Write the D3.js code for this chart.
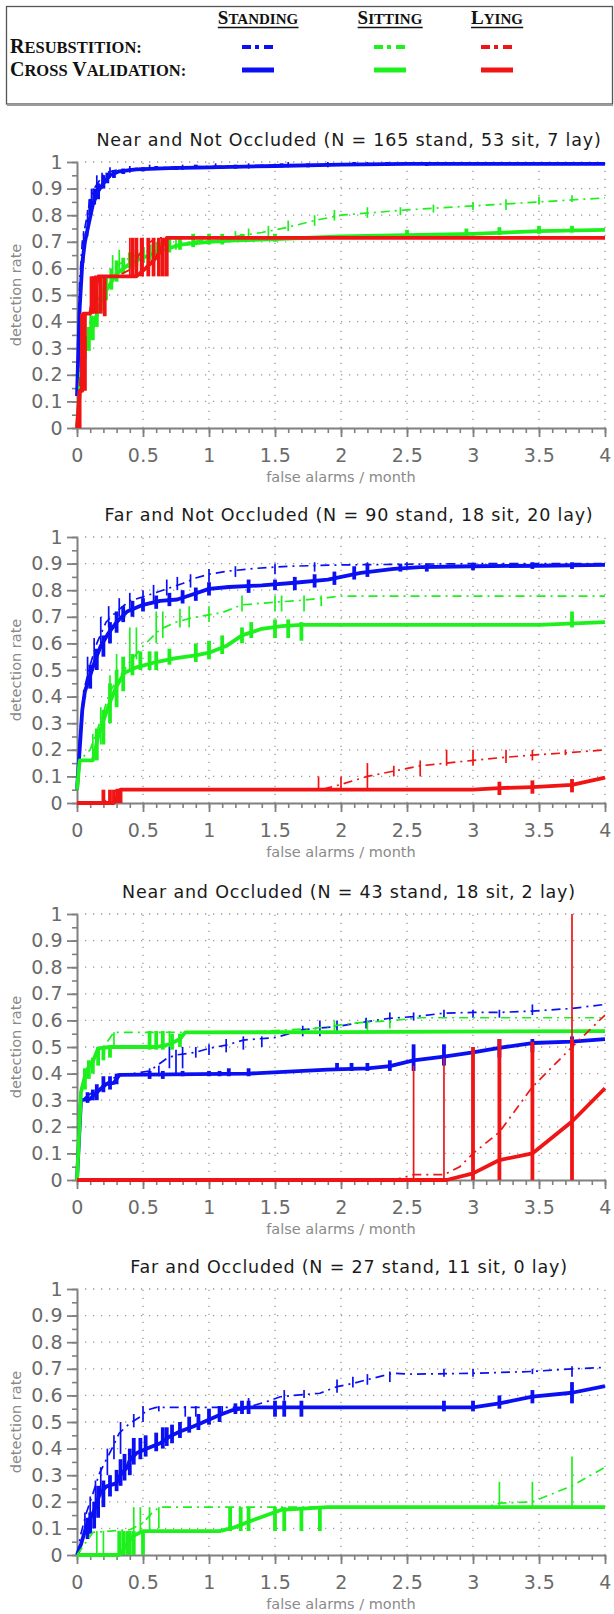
<!DOCTYPE html>
<html>
<head>
<meta charset="utf-8">
<script src="https://cdn.jsdelivr.net/npm/d3@7"></script>
<style>
  body { margin: 0; background: #fff; }
  svg { display: block; }
</style>
</head>
<body>
<div id="chart"></div>
<script>
// ---------- data ----------
const xTicks = [0, 0.5, 1, 1.5, 2, 2.5, 3, 3.5, 4];
const yTicks = [0, 0.1, 0.2, 0.3, 0.4, 0.5, 0.6, 0.7, 0.8, 0.9, 1];
const classes = ["Standing", "Sitting", "Lying"];
const classColors = ["#0a10f2", "#1ef01e", "#f01414"];
const rowLabels = ["Resubstition:", "Cross Validation:"];
const panelTitles = [
  "Near and Not Occluded (N = 165 stand, 53 sit, 7 lay)",
  "Far and Not Occluded (N = 90 stand, 18 sit, 20 lay)",
  "Near and Occluded (N = 43 stand, 18 sit, 2 lay)",
  "Far and Occluded (N = 27 stand, 11 sit, 0 lay)"
];

// curves are [falseAlarms, detectionRate], bars are [falseAlarms, low, high]
// panel 1 - near, not occluded
const p1StandCV = [[0,0.12],[0.02,0.45],[0.04,0.62],[0.06,0.7],[0.09,0.77],[0.12,0.84],[0.16,0.89],[0.2,0.92],[0.25,0.95],[0.32,0.965],[0.45,0.972],[0.7,0.977],[1,0.98],[1.5,0.985],[2,0.99],[2.5,0.993],[4,0.993]];
const p1StandCVBars = [[0.1,0.8,0.86],[0.13,0.84,0.9],[0.16,0.86,0.92],[0.2,0.9,0.95],[0.23,0.92,0.96],[0.28,0.94,0.97],[0.35,0.955,0.975],[0.5,0.965,0.98],[0.6,0.97,0.985],[0.75,0.97,0.985],[0.9,0.975,0.99],[1.2,0.975,0.99],[1.55,0.98,0.995],[1.75,0.98,0.995],[2.1,0.985,1],[2.35,0.985,1],[2.65,0.985,1]];
const p1StandRS = [[0,0.12],[0.02,0.55],[0.04,0.7],[0.07,0.78],[0.1,0.86],[0.13,0.9],[0.17,0.93],[0.22,0.96],[0.3,0.97],[0.45,0.975],[0.7,0.98],[1,0.983],[1.5,0.988],[2,0.99],[2.5,0.995],[4,0.995]];
const p1StandRSBars = [[0.05,0.62,0.74],[0.08,0.72,0.82],[0.11,0.8,0.9],[0.15,0.88,0.95],[0.19,0.9,0.96],[0.25,0.94,0.98],[0.4,0.96,0.985],[0.55,0.97,0.99],[0.8,0.97,0.99],[1.05,0.975,0.995],[1.3,0.975,0.995],[1.6,0.98,1],[1.9,0.98,1],[2.2,0.985,1]];
const p1SitCV = [[0,0],[0.03,0.2],[0.05,0.28],[0.08,0.32],[0.12,0.38],[0.16,0.44],[0.2,0.5],[0.25,0.54],[0.3,0.58],[0.38,0.61],[0.45,0.63],[0.55,0.65],[0.65,0.67],[0.8,0.69],[1,0.7],[1.2,0.705],[1.5,0.71],[2,0.72],[2.5,0.725],[3,0.73],[3.5,0.74],[4,0.745]];
const p1SitCVBars = [[0.06,0.26,0.32],[0.09,0.29,0.38],[0.12,0.33,0.42],[0.15,0.38,0.47],[0.18,0.44,0.53],[0.22,0.48,0.56],[0.26,0.52,0.6],[0.3,0.55,0.63],[0.35,0.58,0.64],[0.4,0.6,0.66],[0.45,0.61,0.67],[0.5,0.62,0.68],[0.55,0.63,0.69],[0.62,0.65,0.7],[0.7,0.66,0.71],[0.78,0.67,0.72],[0.88,0.68,0.73],[1,0.69,0.73],[1.1,0.69,0.73],[1.25,0.7,0.73],[1.5,0.7,0.73],[2.5,0.72,0.745],[2.95,0.72,0.75],[3.2,0.725,0.755],[3.5,0.73,0.76],[3.75,0.735,0.76]];
const p1SitRS = [[0,0],[0.03,0.22],[0.05,0.3],[0.1,0.4],[0.15,0.47],[0.2,0.53],[0.25,0.58],[0.3,0.61],[0.4,0.64],[0.5,0.66],[0.6,0.67],[0.8,0.695],[1,0.71],[1.2,0.72],[1.4,0.735],[1.6,0.755],[1.8,0.78],[2,0.8],[2.25,0.81],[2.5,0.82],[3,0.835],[3.5,0.85],[4,0.865]];
const p1SitRSBars = [[0.1,0.36,0.44],[0.15,0.42,0.52],[0.2,0.5,0.57],[0.27,0.56,0.65],[0.32,0.58,0.67],[0.45,0.62,0.69],[0.6,0.65,0.7],[0.75,0.67,0.72],[1,0.69,0.73],[1.2,0.7,0.74],[1.3,0.71,0.75],[1.45,0.72,0.76],[1.6,0.74,0.78],[1.8,0.76,0.8],[1.95,0.78,0.82],[2.2,0.79,0.83],[2.45,0.8,0.83],[2.7,0.81,0.84],[3,0.82,0.85],[3.25,0.82,0.86],[3.5,0.84,0.87],[3.75,0.85,0.875]];
const p1LieCV = [[0,0],[0.02,0.14],[0.04,0.14],[0.05,0.43],[0.1,0.43],[0.13,0.5],[0.16,0.57],[0.45,0.57],[0.52,0.6],[0.6,0.64],[0.68,0.715],[4,0.715]];
const p1LieCVBars = [[0.02,0,0.14],[0.04,0.14,0.43],[0.06,0.14,0.43],[0.11,0.43,0.57],[0.13,0.43,0.57],[0.15,0.43,0.57],[0.18,0.43,0.57],[0.21,0.42,0.57],[0.42,0.57,0.715],[0.45,0.57,0.715],[0.49,0.57,0.715],[0.54,0.57,0.715],[0.58,0.57,0.715],[0.62,0.57,0.715],[0.65,0.57,0.715],[0.68,0.57,0.715]];
const p1LieRS = [[0,0],[0.02,0.14],[0.04,0.43],[0.1,0.43],[0.12,0.57],[0.3,0.57],[0.42,0.6],[0.5,0.68],[0.6,0.715],[4,0.715]];
const p1LieRSBars = [[0.03,0.14,0.43],[0.12,0.43,0.57],[0.4,0.57,0.715],[0.5,0.57,0.715]];

// panel 2 - far, not occluded
const p2StandCV = [[0,0.05],[0.02,0.2],[0.04,0.35],[0.06,0.42],[0.1,0.48],[0.14,0.54],[0.18,0.59],[0.24,0.64],[0.3,0.68],[0.38,0.72],[0.5,0.745],[0.63,0.76],[0.76,0.765],[0.88,0.785],[1,0.805],[1.15,0.812],[1.4,0.818],[1.65,0.828],[1.9,0.84],[2.15,0.865],[2.4,0.88],[2.6,0.887],[3,0.89],[3.5,0.892],[4,0.895]];
const p2StandCVBars = [[0.1,0.43,0.52],[0.15,0.5,0.58],[0.2,0.55,0.63],[0.25,0.6,0.68],[0.3,0.64,0.72],[0.35,0.68,0.74],[0.42,0.7,0.76],[0.5,0.72,0.77],[0.6,0.73,0.78],[0.7,0.74,0.79],[0.8,0.75,0.8],[0.9,0.76,0.81],[1,0.78,0.83],[1.3,0.79,0.84],[1.5,0.8,0.84],[1.65,0.8,0.85],[1.8,0.81,0.86],[1.95,0.82,0.87],[2.1,0.84,0.89],[2.2,0.85,0.9],[2.45,0.87,0.9],[2.65,0.87,0.9],[3,0.875,0.9],[3.45,0.88,0.905],[3.75,0.88,0.905]];
const p2StandRS = [[0,0.05],[0.02,0.25],[0.05,0.42],[0.1,0.52],[0.15,0.6],[0.22,0.68],[0.3,0.72],[0.4,0.76],[0.5,0.775],[0.65,0.8],[0.8,0.825],[0.9,0.846],[1,0.86],[1.15,0.872],[1.35,0.882],[1.6,0.89],[2,0.895],[3,0.9],[4,0.9]];
const p2StandRSBars = [[0.08,0.45,0.55],[0.13,0.53,0.62],[0.18,0.6,0.7],[0.24,0.66,0.74],[0.32,0.7,0.77],[0.4,0.73,0.79],[0.5,0.75,0.8],[0.58,0.76,0.82],[0.68,0.78,0.84],[0.76,0.8,0.85],[0.86,0.81,0.86],[1,0.83,0.88],[1.2,0.85,0.89],[1.5,0.86,0.9],[1.8,0.87,0.905],[2.2,0.875,0.905],[2.5,0.88,0.905]];
const p2SitCV = [[0,0.05],[0.02,0.16],[0.12,0.16],[0.16,0.25],[0.2,0.31],[0.25,0.38],[0.3,0.44],[0.36,0.49],[0.45,0.51],[0.6,0.53],[0.75,0.545],[0.9,0.555],[1,0.565],[1.13,0.59],[1.25,0.63],[1.4,0.655],[1.55,0.665],[1.7,0.67],[3.5,0.67],[4,0.68]];
const p2SitCVBars = [[0.15,0.16,0.28],[0.2,0.22,0.35],[0.25,0.3,0.45],[0.3,0.36,0.5],[0.35,0.42,0.55],[0.42,0.48,0.56],[0.48,0.5,0.57],[0.55,0.5,0.57],[0.6,0.5,0.57],[0.7,0.52,0.58],[0.9,0.53,0.6],[1,0.54,0.61],[1.1,0.56,0.63],[1.25,0.6,0.66],[1.32,0.62,0.68],[1.5,0.62,0.69],[1.6,0.62,0.69],[1.7,0.61,0.68],[3.75,0.66,0.72]];
const p2SitRS = [[0,0.05],[0.02,0.16],[0.1,0.2],[0.15,0.27],[0.2,0.34],[0.25,0.42],[0.33,0.48],[0.4,0.53],[0.5,0.59],[0.63,0.653],[0.75,0.68],[0.88,0.697],[1.1,0.716],[1.25,0.745],[1.5,0.755],[1.7,0.762],[1.9,0.772],[2,0.778],[4,0.778]];
const p2SitRSBars = [[0.12,0.16,0.26],[0.18,0.22,0.36],[0.25,0.3,0.48],[0.3,0.38,0.56],[0.4,0.5,0.66],[0.45,0.54,0.66],[0.6,0.6,0.72],[0.65,0.62,0.72],[0.78,0.66,0.73],[0.85,0.66,0.74],[1,0.68,0.74],[1.25,0.72,0.78],[1.5,0.72,0.78],[1.55,0.72,0.78],[1.72,0.72,0.78],[1.85,0.74,0.78]];
const p2LieCV = [[0,0],[0.28,0],[0.33,0.05],[3,0.05],[3.2,0.056],[3.45,0.06],[3.75,0.068],[4,0.095]];
const p2LieCVBars = [[0.2,0,0.05],[0.25,0,0.05],[0.28,0,0.05],[0.31,0,0.05],[0.33,0,0.05],[3.2,0.03,0.08],[3.45,0.035,0.085],[3.75,0.04,0.09]];
const p2LieRS = [[0,0],[0.2,0],[0.3,0.05],[1.85,0.05],[2,0.07],[2.2,0.1],[2.4,0.12],[2.6,0.14],[2.8,0.15],[3,0.16],[3.2,0.17],[3.45,0.18],[3.75,0.19],[4,0.2]];
const p2LieRSBars = [[1.83,0.05,0.1],[2,0.05,0.1],[2.2,0.05,0.15],[2.4,0.1,0.14],[2.6,0.1,0.16],[2.8,0.14,0.2],[3,0.14,0.2],[3.25,0.15,0.2],[3.45,0.16,0.2],[3.7,0.18,0.2]];

// panel 3 - near, occluded
const p3StandCV = [[0,0],[0.03,0.3],[0.1,0.305],[0.15,0.33],[0.22,0.36],[0.28,0.365],[0.32,0.395],[1.3,0.4],[1.9,0.415],[2.2,0.42],[2.37,0.428],[2.55,0.45],[2.78,0.464],[3,0.48],[3.2,0.497],[3.45,0.515],[3.75,0.52],[4,0.53]];
const p3StandCVBars = [[0.08,0.29,0.33],[0.12,0.3,0.34],[0.15,0.3,0.36],[0.2,0.33,0.39],[0.25,0.34,0.39],[0.3,0.36,0.4],[0.55,0.38,0.41],[0.65,0.38,0.41],[0.8,0.39,0.41],[1,0.39,0.41],[1.08,0.39,0.41],[1.15,0.39,0.42],[1.3,0.39,0.42],[1.97,0.41,0.44],[2.08,0.41,0.44],[2.2,0.41,0.44],[2.37,0.41,0.45],[2.55,0.41,0.51],[2.78,0.43,0.51],[3.2,0.46,0.53],[3.45,0.48,0.53],[3.75,0.5,0.54]];
const p3StandRS = [[0,0],[0.03,0.3],[0.3,0.39],[0.55,0.41],[0.68,0.457],[0.75,0.47],[0.9,0.48],[1,0.495],[1.13,0.507],[1.26,0.526],[1.51,0.536],[1.71,0.565],[1.97,0.577],[2.19,0.595],[2.37,0.608],[2.55,0.614],[2.78,0.627],[3,0.63],[3.2,0.63],[3.45,0.635],[3.75,0.645],[4,0.66]];
const p3StandRSBars = [[0.55,0.39,0.42],[0.62,0.39,0.43],[0.7,0.42,0.5],[0.75,0.4,0.49],[0.8,0.42,0.5],[0.9,0.46,0.5],[1,0.47,0.51],[1.13,0.48,0.53],[1.26,0.49,0.54],[1.4,0.5,0.54],[1.71,0.54,0.58],[1.84,0.54,0.6],[1.97,0.56,0.6],[2.19,0.57,0.61],[2.37,0.59,0.63],[2.55,0.6,0.63],[2.78,0.61,0.64],[3,0.61,0.64],[3.2,0.61,0.64],[3.45,0.62,0.66]];
const p3SitCV = [[0,0],[0.03,0.33],[0.07,0.41],[0.12,0.445],[0.16,0.495],[0.25,0.5],[0.6,0.5],[0.7,0.51],[0.78,0.53],[0.82,0.555],[2,0.556],[4,0.56]];
const p3SitCVBars = [[0.06,0.34,0.42],[0.09,0.38,0.45],[0.12,0.4,0.46],[0.16,0.43,0.5],[0.2,0.45,0.5],[0.25,0.46,0.5],[0.55,0.49,0.56],[0.6,0.49,0.56],[0.65,0.49,0.56],[0.72,0.49,0.55],[0.78,0.5,0.55]];
const p3SitRS = [[0,0],[0.03,0.35],[0.1,0.45],[0.2,0.5],[0.28,0.555],[1.3,0.556],[1.8,0.57],[2.1,0.59],[2.4,0.6],[2.6,0.61],[4,0.61]];
const p3SitRSBars = [[0.28,0.5,0.555],[0.55,0.5,0.56],[0.6,0.5,0.56],[0.7,0.5,0.56],[1.95,0.56,0.6],[2.2,0.56,0.6],[2.37,0.57,0.6]];
const p3LieCV = [[0,0],[2.8,0],[3,0.025],[3.2,0.075],[3.45,0.1],[3.75,0.22],[4,0.345]];
const p3LieCVBars = [[3,0,0.5],[3.2,0,0.53],[3.45,0,0.52],[3.75,0,0.53]];
const p3LieRS = [[0,0],[2.4,0],[2.55,0.02],[2.78,0.02],[2.9,0.05],[3,0.1],[3.2,0.18],[3.45,0.35],[3.75,0.5],[4,0.62]];
const p3LieRSBars = [[2.55,0,0.43],[2.78,0,0.46],[3.75,0,1]];

// panel 4 - far, occluded (no lying samples)
const p4StandCV = [[0,0],[0.03,0.04],[0.07,0.107],[0.12,0.157],[0.15,0.19],[0.17,0.23],[0.22,0.257],[0.3,0.27],[0.32,0.295],[0.38,0.33],[0.4,0.357],[0.45,0.383],[0.53,0.4],[0.63,0.42],[0.7,0.445],[0.78,0.464],[0.88,0.483],[0.96,0.5],[1.08,0.526],[1.18,0.545],[1.29,0.555],[3,0.555],[3.2,0.57],[3.45,0.595],[3.75,0.61],[4,0.635]];
const p4StandCVBars = [[0.08,0.06,0.14],[0.1,0.08,0.16],[0.13,0.1,0.2],[0.16,0.14,0.26],[0.2,0.18,0.28],[0.25,0.22,0.3],[0.3,0.24,0.32],[0.33,0.26,0.36],[0.36,0.28,0.38],[0.4,0.3,0.4],[0.43,0.34,0.44],[0.48,0.36,0.44],[0.52,0.37,0.45],[0.6,0.39,0.46],[0.65,0.4,0.48],[0.68,0.41,0.48],[0.72,0.42,0.49],[0.78,0.44,0.5],[0.85,0.46,0.52],[0.92,0.47,0.53],[1,0.49,0.55],[1.08,0.5,0.56],[1.2,0.53,0.57],[1.25,0.53,0.58],[1.3,0.53,0.58],[1.5,0.52,0.58],[1.57,0.52,0.58],[1.7,0.52,0.58],[2.78,0.54,0.58],[3,0.54,0.58],[3.2,0.55,0.6],[3.45,0.57,0.62],[3.75,0.57,0.65]];
const p4StandRS = [[0,0],[0.03,0.08],[0.07,0.157],[0.12,0.23],[0.17,0.307],[0.22,0.357],[0.26,0.395],[0.32,0.458],[0.4,0.495],[0.48,0.52],[0.53,0.545],[0.6,0.555],[1.29,0.555],[1.44,0.577],[1.54,0.595],[1.69,0.602],[1.84,0.608],[1.97,0.633],[2.09,0.645],[2.19,0.658],[2.39,0.683],[2.55,0.68],[3,0.683],[3.2,0.686],[3.45,0.69],[3.75,0.7],[4,0.705]];
const p4StandRSBars = [[0.06,0.08,0.16],[0.1,0.11,0.22],[0.14,0.15,0.28],[0.18,0.22,0.33],[0.23,0.3,0.4],[0.28,0.36,0.45],[0.33,0.38,0.5],[0.43,0.48,0.53],[0.5,0.5,0.56],[0.62,0.54,0.56],[0.82,0.52,0.56],[0.9,0.52,0.56],[1.1,0.53,0.56],[1.3,0.55,0.59],[1.57,0.58,0.62],[1.72,0.59,0.62],[1.97,0.61,0.66],[2.09,0.63,0.67],[2.2,0.64,0.68],[2.37,0.65,0.69],[2.78,0.67,0.7],[3,0.67,0.7],[3.45,0.68,0.7],[3.75,0.67,0.71]];
const p4SitCV = [[0,0],[0.32,0],[0.42,0.07],[0.5,0.09],[1.08,0.09],[1.2,0.105],[1.3,0.125],[1.55,0.17],[1.9,0.18],[4,0.18]];
const p4SitCVBars = [[0.32,0,0.09],[0.35,0,0.09],[0.38,0,0.09],[0.4,0,0.09],[0.43,0,0.09],[0.5,0,0.09],[1.16,0.09,0.18],[1.24,0.09,0.18],[1.3,0.09,0.18],[1.5,0.09,0.18],[1.57,0.09,0.18],[1.7,0.09,0.18],[1.84,0.09,0.18]];
const p4SitRS = [[0,0],[0.12,0.085],[0.4,0.095],[0.5,0.12],[0.58,0.165],[0.63,0.18],[3.1,0.18],[3.2,0.195],[3.45,0.2],[3.75,0.26],[4,0.33]];
const p4SitRSBars = [[0.15,0,0.09],[0.2,0,0.09],[0.43,0.09,0.18],[0.48,0.09,0.18],[0.55,0.09,0.18],[0.62,0.1,0.18],[3.2,0.18,0.275],[3.45,0.18,0.275],[3.75,0.18,0.37]];

const panels = [
  { title: panelTitles[0], series: [
    { cls: 0, cv: p1StandCV, cvBars: p1StandCVBars, rs: p1StandRS, rsBars: p1StandRSBars },
    { cls: 1, cv: p1SitCV, cvBars: p1SitCVBars, rs: p1SitRS, rsBars: p1SitRSBars },
    { cls: 2, cv: p1LieCV, cvBars: p1LieCVBars, rs: p1LieRS, rsBars: p1LieRSBars } ] },
  { title: panelTitles[1], series: [
    { cls: 0, cv: p2StandCV, cvBars: p2StandCVBars, rs: p2StandRS, rsBars: p2StandRSBars },
    { cls: 1, cv: p2SitCV, cvBars: p2SitCVBars, rs: p2SitRS, rsBars: p2SitRSBars },
    { cls: 2, cv: p2LieCV, cvBars: p2LieCVBars, rs: p2LieRS, rsBars: p2LieRSBars } ] },
  { title: panelTitles[2], series: [
    { cls: 0, cv: p3StandCV, cvBars: p3StandCVBars, rs: p3StandRS, rsBars: p3StandRSBars },
    { cls: 1, cv: p3SitCV, cvBars: p3SitCVBars, rs: p3SitRS, rsBars: p3SitRSBars },
    { cls: 2, cv: p3LieCV, cvBars: p3LieCVBars, rs: p3LieRS, rsBars: p3LieRSBars } ] },
  { title: panelTitles[3], series: [
    { cls: 0, cv: p4StandCV, cvBars: p4StandCVBars, rs: p4StandRS, rsBars: p4StandRSBars },
    { cls: 1, cv: p4SitCV, cvBars: p4SitCVBars, rs: p4SitRS, rsBars: p4SitRSBars } ] }
];

// ---------- layout ----------
const W = 614, H = 1614;
const plotL = 77, plotR = 605, plotH = 266;
const panelTop = [162, 537, 914, 1289];
const sans = "'DejaVu Sans', 'Liberation Sans', sans-serif";
const serif = "'Liberation Serif', 'Times New Roman', serif";
const axisColor = "#808080";
const rsDash = "9,5,2,5";

const svg = d3.select("#chart").append("svg")
  .attr("width", W).attr("height", H);
svg.append("rect").attr("width", W).attr("height", H).attr("fill", "#fff");

const x = d3.scaleLinear().domain([0, 4]).range([plotL, plotR]);

// ---------- legend box ----------
const leg = svg.append("g");
leg.append("rect")
  .attr("x", 6.5).attr("y", 6.5).attr("width", 606).attr("height", 97.5)
  .attr("fill", "#fff").attr("stroke", "#555").attr("stroke-width", 1.3);
leg.append("line")
  .attr("x1", 7).attr("x2", 613).attr("y1", 105).attr("y2", 105)
  .attr("stroke", "#9a9a9a").attr("stroke-width", 2);

// small caps by hand: first letter of each word large, the rest smaller
function capsText(g, str, tx, ty, big, small, anchor) {
  const t = g.append("text")
    .attr("x", tx).attr("y", ty)
    .attr("font-family", serif).attr("font-weight", "bold")
    .attr("fill", "#111").attr("text-anchor", anchor)
    .style("white-space", "pre");
  str.split(" ").forEach((w, k) => {
    t.append("tspan").attr("font-size", big).text((k > 0 ? " " : "") + w[0].toUpperCase());
    t.append("tspan").attr("font-size", small).text(w.slice(1).toUpperCase());
  });
  return t;
}

const colCenter = [258, 390, 497];
const rowY = [47, 70];

classes.forEach((c, i) => {
  const t = capsText(leg, c, colCenter[i], 24, 19, 15, "middle");
  const bb = t.node().getBBox();
  leg.append("line")
    .attr("x1", bb.x).attr("x2", bb.x + bb.width)
    .attr("y1", 27.5).attr("y2", 27.5)
    .attr("stroke", "#111").attr("stroke-width", 1.5);

  leg.append("line")
    .attr("x1", colCenter[i] - 16).attr("x2", colCenter[i] + 16)
    .attr("y1", rowY[0]).attr("y2", rowY[0])
    .attr("stroke", classColors[i]).attr("stroke-width", 4)
    .attr("stroke-dasharray", "9,4,4,5");
  leg.append("line")
    .attr("x1", colCenter[i] - 16).attr("x2", colCenter[i] + 16)
    .attr("y1", rowY[1]).attr("y2", rowY[1])
    .attr("stroke", classColors[i]).attr("stroke-width", 5);
});
rowLabels.forEach((r, i) => capsText(leg, r, 10, rowY[i] + 6, 20, 16.5, "start"));

// ---------- panels ----------
panels.forEach((p, i) => {
  const top = panelTop[i];
  const bottom = top + plotH;
  const y = d3.scaleLinear().domain([0, 1]).range([bottom, top]);
  const g = svg.append("g");

  // dotted grid
  g.append("g").selectAll("line").data(xTicks.slice(1)).join("line")
    .attr("x1", d => x(d)).attr("x2", d => x(d))
    .attr("y1", y(0)).attr("y2", y(1))
    .attr("stroke", "#9a9a9a").attr("stroke-width", 1.3)
    .attr("stroke-dasharray", "1.3,6.7");
  g.append("g").selectAll("line").data(yTicks.slice(1)).join("line")
    .attr("x1", x(0)).attr("x2", x(4))
    .attr("y1", d => y(d)).attr("y2", d => y(d))
    .attr("stroke", "#9a9a9a").attr("stroke-width", 1.3)
    .attr("stroke-dasharray", "1.3,6.7");

  // minor ticks
  const xMinor = d3.range(0, 40.5, 1).map(v => v / 10);
  const yMinor = d3.range(0, 20.5, 1).map(v => v / 20);
  g.append("g").attr("transform", `translate(0,${bottom})`)
    .call(d3.axisBottom(x).tickValues(xMinor).tickSize(5).tickFormat(""))
    .call(a => a.select(".domain").remove())
    .selectAll("line").attr("stroke", axisColor).attr("stroke-width", 1.6);
  g.append("g").attr("transform", `translate(${plotL},0)`)
    .call(d3.axisLeft(y).tickValues(yMinor).tickSize(5).tickFormat(""))
    .call(a => a.select(".domain").remove())
    .selectAll("line").attr("stroke", axisColor).attr("stroke-width", 1.6);

  // major axes
  const xa = g.append("g").attr("transform", `translate(0,${bottom})`)
    .call(d3.axisBottom(x).tickValues(xTicks).tickSize(9).tickSizeOuter(0).tickPadding(12).tickFormat(d => String(d)));
  const ya = g.append("g").attr("transform", `translate(${plotL},0)`)
    .call(d3.axisLeft(y).tickValues(yTicks).tickSize(10).tickSizeOuter(0).tickPadding(4).tickFormat(d => String(d)));
  [xa, ya].forEach(a => {
    a.select(".domain").attr("stroke", axisColor).attr("stroke-width", 2);
    a.selectAll(".tick line").attr("stroke", axisColor).attr("stroke-width", 1.8);
    a.selectAll("text").attr("font-family", sans).attr("font-size", 19)
      .attr("letter-spacing", 0.5).attr("fill", "#6a6a6a");
  });

  // curves
  const line = d3.line().x(d => x(d[0])).y(d => y(d[1]));
  p.series.forEach(s => {
    const col = classColors[s.cls];
    const sg = g.append("g");
    sg.append("g").selectAll("line").data(s.rsBars).join("line")
      .attr("x1", d => x(d[0])).attr("x2", d => x(d[0]))
      .attr("y1", d => y(d[1])).attr("y2", d => y(d[2]))
      .attr("stroke", col).attr("stroke-width", 1.7);
    sg.append("path").datum(s.rs).attr("d", line)
      .attr("fill", "none").attr("stroke", col).attr("stroke-width", 1.7)
      .attr("stroke-dasharray", rsDash);
    sg.append("g").selectAll("line").data(s.cvBars).join("line")
      .attr("x1", d => x(d[0])).attr("x2", d => x(d[0]))
      .attr("y1", d => y(d[1])).attr("y2", d => y(d[2]))
      .attr("stroke", col).attr("stroke-width", 3.8);
    sg.append("path").datum(s.cv).attr("d", line)
      .attr("fill", "none").attr("stroke", col).attr("stroke-width", 3.8)
      .attr("stroke-linejoin", "round");
  });

  // texts
  g.append("text")
    .attr("x", (plotL + plotR) / 2 + 8).attr("y", top - 16)
    .attr("text-anchor", "middle").attr("font-family", sans)
    .attr("font-size", 17.5).attr("letter-spacing", 0.8).attr("fill", "#1a1a1a")
    .text(p.title);
  g.append("text")
    .attr("x", (plotL + plotR) / 2).attr("y", bottom + 54)
    .attr("text-anchor", "middle").attr("font-family", sans)
    .attr("font-size", 14.5).attr("fill", "#8a8a8a")
    .text("false alarms / month");
  g.append("text")
    .attr("transform", `translate(16,${(top + bottom) / 2}) rotate(-90)`)
    .attr("text-anchor", "middle").attr("dominant-baseline", "central")
    .attr("font-family", sans).attr("font-size", 14.5).attr("fill", "#8a8a8a")
    .text("detection rate");
});
</script>
</body>
</html>
